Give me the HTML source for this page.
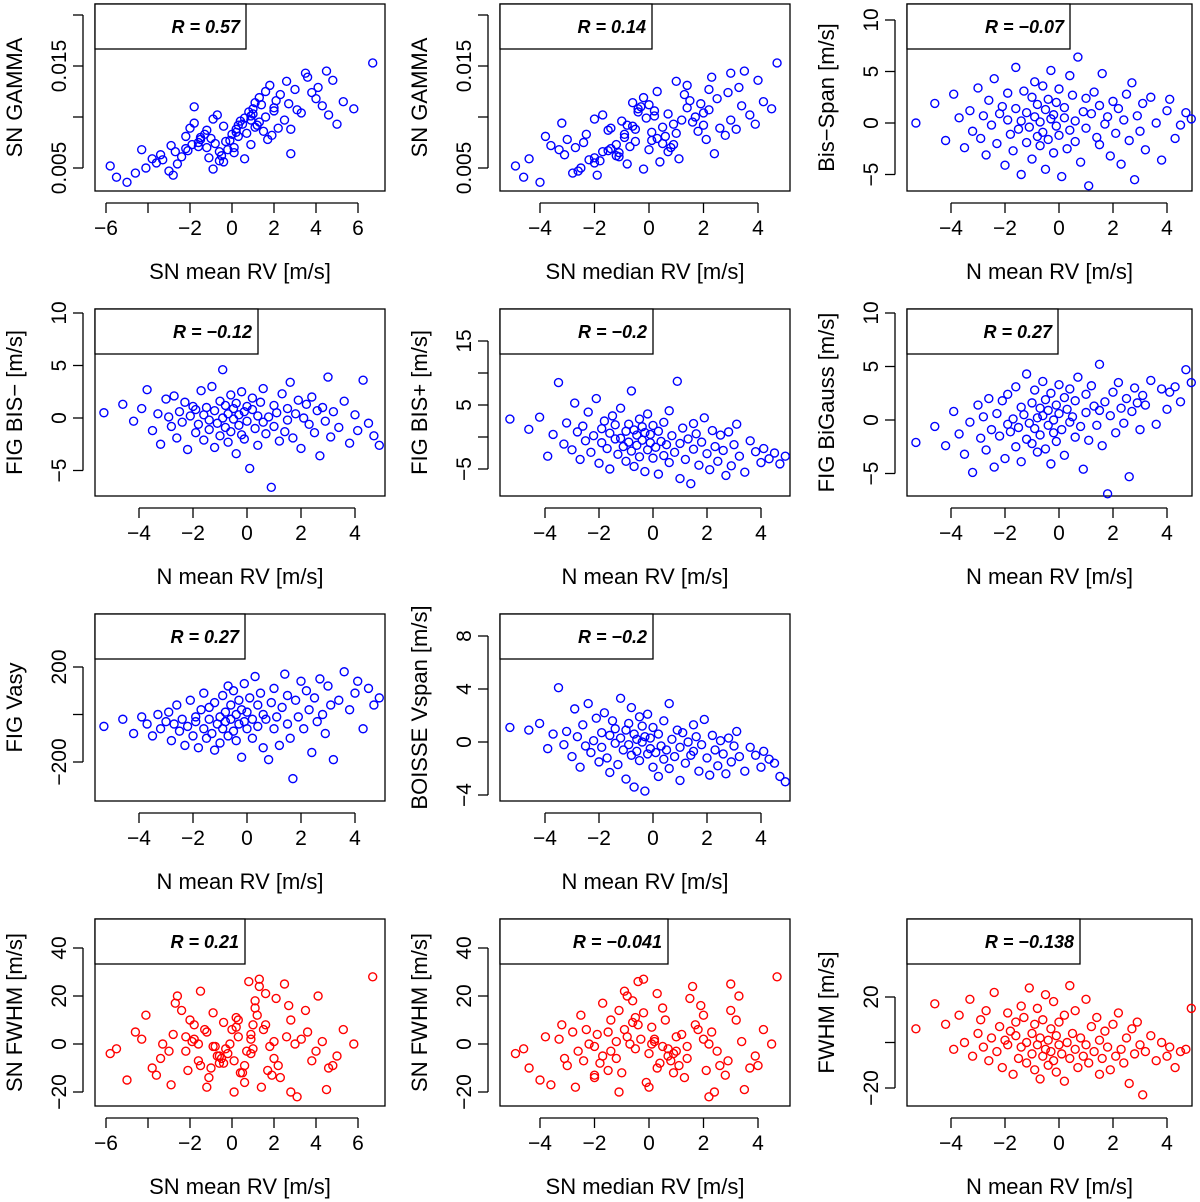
<!DOCTYPE html>
<html><head><meta charset="utf-8"><style>
html,body{margin:0;padding:0;background:#fff;}
svg{display:block;font-family:"Liberation Sans",sans-serif;}
</style></head><body>
<svg id="chart" width="1200" height="1202" viewBox="0 0 1200 1202" xmlns="http://www.w3.org/2000/svg"></svg>
<script>
const nMeanRV = [-5.3,-4.6,-4.2,-3.9,-3.7,-3.5,-3.3,-3.2,-3.0,-2.9,
-2.8,-2.7,-2.6,-2.5,-2.4,-2.3,-2.2,-2.1,-2.0,-1.9,
-1.9,-1.8,-1.7,-1.6,-1.6,-1.5,-1.4,-1.4,-1.3,-1.2,
-1.2,-1.1,-1.0,-1.0,-0.9,-0.9,-0.8,-0.8,-0.7,-0.7,
-0.6,-0.6,-0.5,-0.5,-0.4,-0.4,-0.3,-0.3,-0.2,-0.2,
-0.1,-0.1,0.0,0.0,0.1,0.2,0.2,0.3,0.4,0.4,
0.5,0.6,0.6,0.7,0.8,0.9,1.0,1.0,1.1,1.2,
1.3,1.4,1.5,1.5,1.6,1.7,1.8,1.9,2.0,2.1,
2.2,2.3,2.4,2.5,2.6,2.7,2.8,2.9,3.0,3.1,
3.2,3.4,3.6,3.8,4.0,4.1,4.3,4.5,4.7,4.9];
const snMeanRV = [-5.8,-5.5,-4.3,-5.0,-3.8,-4.6,-2.9,-4.1,-3.4,-2.2,
-3.6,-1.8,-3.0,-2.7,-1.5,-3.3,-2.0,-1.2,-2.8,-1.6,
-2.4,-0.9,-2.1,-1.3,-2.6,-0.7,-1.9,-1.1,-0.4,-2.2,
-1.5,-0.6,-1.8,0.1,-1.2,-0.3,-0.9,0.4,-1.6,0.2,
-0.5,0.8,-1.0,0.3,-0.2,1.1,-0.8,0.6,0.0,-0.4,
0.9,0.2,-0.6,1.3,0.5,-0.1,1.0,0.7,1.6,0.1,
0.9,1.4,0.3,1.8,1.1,0.6,2.0,1.3,0.9,2.3,
1.5,1.0,2.1,1.7,2.6,1.2,2.0,2.8,1.6,3.0,
2.2,2.7,3.3,1.9,3.6,2.5,4.0,3.1,2.8,3.8,
4.3,3.5,4.6,4.1,5.0,4.5,5.3,4.8,5.8,6.7];
const snMedianRV = [-4.9,-4.6,-3.3,-4.0,-4.4,-2.8,-3.6,-2.5,-3.1,-3.8,
-2.0,-3.2,-2.6,-1.7,-3.0,-2.2,-1.4,-2.7,-1.9,-2.4,
-1.1,-2.0,-1.5,-2.3,-0.8,-1.7,-1.2,-2.0,-0.6,-1.4,
-0.9,-1.8,-0.3,-1.1,-1.5,-0.5,-0.2,-1.0,-0.7,0.1,
-1.2,-0.4,0.3,-0.8,0.0,-0.6,0.5,-0.1,-0.9,0.4,
0.2,-0.5,0.7,-0.2,0.9,0.1,-0.4,1.0,0.3,0.8,
1.2,0.0,0.6,1.4,0.5,1.1,0.2,1.6,0.9,1.3,
1.8,0.7,1.5,2.1,1.0,2.0,1.4,2.4,1.7,2.2,
2.6,1.9,2.0,2.8,2.3,3.0,2.5,2.2,3.2,2.9,
3.4,3.0,3.7,3.3,3.9,3.5,4.2,4.0,4.5,4.7];
const snGamma = [0.0052,0.0041,0.0068,0.0036,0.0059,0.0045,0.0072,0.0050,0.0063,0.0081,
0.0055,0.0094,0.0047,0.0066,0.0078,0.0058,0.0089,0.0070,0.0043,0.0075,
0.0061,0.0098,0.0067,0.0083,0.0054,0.0102,0.0073,0.0060,0.0091,0.0069,
0.0080,0.0057,0.0110,0.0065,0.0087,0.0076,0.0049,0.0096,0.0071,0.0085,
0.0062,0.0105,0.0079,0.0092,0.0068,0.0114,0.0074,0.0099,0.0083,0.0056,
0.0101,0.0088,0.0066,0.0119,0.0093,0.0077,0.0108,0.0084,0.0125,0.0070,
0.0097,0.0112,0.0081,0.0131,0.0090,0.0059,0.0106,0.0095,0.0073,0.0122,
0.0086,0.0103,0.0116,0.0078,0.0135,0.0092,0.0109,0.0064,0.0100,0.0127,
0.0089,0.0113,0.0104,0.0082,0.0139,0.0097,0.0118,0.0107,0.0088,0.0124,
0.0111,0.0143,0.0102,0.0129,0.0093,0.0145,0.0115,0.0136,0.0108,0.0153];
const bisSpan = [0.0,1.9,-1.7,2.8,0.5,-2.4,1.2,-0.8,3.4,-1.5,
0.7,-3.1,2.2,-0.2,4.3,-2.0,0.9,1.6,-4.1,0.3,
2.9,-1.1,-2.7,1.4,5.4,-0.6,0.2,-5.0,3.1,-1.9,
1.0,-0.4,2.5,-3.5,0.6,4.0,-1.3,1.8,-2.2,0.1,
3.6,-0.9,-4.5,1.3,2.3,-1.6,0.4,5.1,-2.9,0.8,
-0.3,2.0,-1.2,3.3,-5.2,0.5,1.5,-2.5,4.6,-0.7,
2.7,-1.8,0.2,6.4,-3.8,1.1,-0.5,2.4,-6.1,0.9,
3.0,-1.4,-2.1,1.7,4.8,-0.1,0.6,-3.2,2.1,-1.0,
1.4,-4.0,0.3,2.8,-1.7,3.9,-5.5,0.7,-0.8,1.9,
-2.6,2.5,0.0,-3.6,1.2,2.3,-1.5,-0.2,1.0,0.4];
const bisMinus = [0.5,1.3,-0.3,0.9,2.7,-1.2,0.4,-2.5,1.8,0.1,
-0.8,2.1,-1.9,0.6,-0.4,1.5,-3.0,0.2,1.1,-1.4,
0.8,-0.6,2.6,-2.1,0.3,1.0,-1.1,-0.2,3.0,-2.8,
0.7,-0.5,1.6,-1.7,0.0,4.6,-0.9,1.2,-2.3,0.4,
-1.3,2.2,-0.1,0.9,-3.4,1.4,-0.7,0.3,2.5,-1.6,
0.6,-2.0,1.1,-0.3,-4.8,0.8,1.9,-1.0,0.2,-2.6,
1.5,-0.4,2.8,-1.5,0.1,-6.6,1.2,-0.8,0.5,-2.2,
2.3,-1.3,0.9,-0.2,3.4,-1.9,0.4,1.7,-2.9,0.0,
1.3,-0.6,2.0,-1.4,0.7,-3.6,1.0,-0.3,3.9,-1.8,
0.6,-0.9,1.6,-2.4,0.3,-1.2,3.6,-0.5,-1.7,-2.6];
const bisPlus = [2.8,1.2,3.1,-3.0,0.4,8.5,-1.1,2.2,-2.0,5.3,
0.8,-3.5,1.7,-0.6,3.9,-2.4,0.2,6.0,-4.1,1.3,
-0.9,2.5,-1.8,0.6,-5.0,3.3,-0.3,1.9,-2.7,-0.2,
4.5,-1.5,0.9,-3.8,2.0,-0.8,7.2,-2.2,1.1,-4.6,
0.3,-1.3,2.8,-3.1,-0.5,1.6,-5.4,0.7,-2.0,3.6,
-0.9,0.4,-3.3,1.8,-1.6,-5.8,0.9,-0.7,2.3,-2.9,
-1.2,4.1,-4.0,0.2,-2.4,8.7,-1.0,-6.5,1.4,-3.5,
-0.3,-7.3,2.1,-1.9,0.5,-4.4,-0.8,3.0,-2.6,-5.1,
1.0,-1.5,-3.8,0.3,-2.1,-6.0,0.8,-4.5,-1.2,2.0,
-3.0,-5.5,-0.6,-2.3,-4.0,-1.8,-3.4,-2.5,-4.2,-3.0];
const biGauss = [-2.1,-0.6,-2.4,0.8,-1.3,-3.2,-0.2,-4.9,1.4,-1.7,
0.3,-2.8,2.0,-0.9,-4.4,0.6,-1.5,1.8,-3.6,-0.4,
2.4,-1.1,0.1,-2.5,3.1,-0.7,1.2,-3.9,0.5,-1.8,
4.3,-0.3,1.6,-2.2,-0.8,2.8,0.2,-3.0,1.1,-1.4,
3.6,0.4,-2.7,1.9,-0.5,0.9,-4.1,2.5,-1.2,0.0,
1.4,-2.0,3.3,0.6,-0.9,2.1,-3.3,1.0,-0.2,2.9,
0.3,-1.6,1.8,4.0,-0.6,-4.6,2.4,0.7,-1.9,3.2,
1.3,-0.5,5.2,0.9,-2.4,1.7,-6.9,0.4,2.6,-1.2,
3.5,1.1,-0.3,2.0,-5.3,0.8,3.0,1.6,-0.9,2.3,
1.4,3.7,-0.4,2.9,1.0,2.6,3.1,1.7,4.7,3.5];
const vasy = [-50,-20,-80,-10,-40,-90,0,-60,-30,10,
-110,-40,40,-70,-20,-130,-50,60,-90,-30,
-10,-140,20,-60,90,-100,-20,30,-80,-150,
50,-40,-10,-120,80,-60,10,-30,120,-90,
-20,40,-70,100,0,-110,-40,60,-180,20,
-30,130,-60,10,70,-100,-20,160,40,-50,
90,-140,0,-20,-190,50,-60,110,-10,-130,
30,170,-40,80,-100,-270,60,-10,140,-60,
100,20,-160,70,-30,150,0,-80,120,40,
-190,60,180,20,90,140,-60,110,40,70];
const vspan = [1.1,0.9,1.4,-0.5,0.6,4.1,-0.2,0.8,-1.1,2.5,
0.4,-1.9,1.3,-0.3,2.9,-0.8,0.1,1.8,-1.5,0.7,
-0.4,2.2,-1.2,0.5,-2.3,1.6,-0.1,1.0,-1.7,0.3,
3.3,-0.6,0.9,-2.8,1.4,-0.2,2.6,-1.0,0.6,-3.4,
0.2,-0.7,1.9,-1.4,0.0,1.2,-3.7,0.4,-0.9,2.1,
-0.5,0.3,-1.9,1.1,-0.8,-2.6,0.6,-0.3,1.6,-1.3,
-0.6,2.9,-2.0,0.2,-1.1,0.9,-0.4,-2.9,0.7,-1.6,
0.0,-1.0,1.3,-0.7,0.4,-2.2,-0.2,1.7,-1.2,-2.5,
0.5,-0.6,-1.8,0.1,-0.9,-2.4,0.3,-1.5,-0.3,0.8,
-1.1,-2.2,-0.4,-1.0,-1.9,-0.7,-1.3,-1.6,-2.6,-3.0];
const fwhmSN = [-4,-2,2,-15,-10,5,-17,12,-6,3,
-13,8,-3,17,-9,0,10,-18,4,-7,
14,-1,-11,6,20,-5,1,-14,9,-3,
22,-8,2,-20,5,-2,13,-12,0,7,
-6,26,-10,3,-4,18,-1,-16,6,-8,
2,11,-5,27,-12,0,8,-3,21,-7,
4,-18,10,-1,15,-9,1,24,-4,-14,
6,-2,19,-11,3,12,-6,-20,8,0,
-9,16,2,-13,5,25,-3,-22,10,-7,
1,14,-10,20,-5,-19,6,-9,0,28];
const fwhmN = [6,17,8,-3,12,0,19,-6,4,10,
-2,14,-8,2,22,-4,7,-11,1,13,
-1,5,-14,9,3,-7,16,-2,11,-9,
0,24,-5,4,-12,8,-1,15,-16,2,
-6,10,-3,21,-10,1,6,-4,18,-8,
3,-13,-1,9,-5,12,-17,0,25,-7,
4,-3,14,-11,2,-6,19,-1,-9,7,
-4,11,-14,1,-7,5,-2,-12,8,-6,
13,-3,-9,2,-18,6,-5,9,-1,-23,
-4,3,-8,0,-6,-2,-11,-4,-3,15];
const rLabels = ["R = 0.57","R = 0.14","R = \u22120.07","R = \u22120.12","R = \u22120.2","R = 0.27","R = 0.27","R = \u22120.2","R = 0.21","R = \u22120.041","R = \u22120.138"];
const xTicksSN = [-6,-4,-2,0,2,4,6];
const xTickLabelsSN = ["\u22126","","\u22122","0","2","4","6"];
const xTicksN = [-4,-2,0,2,4];
const xTickLabelsN = ["\u22124","\u22122","0","2","4"];

const NS="http://www.w3.org/2000/svg";
const svg=document.getElementById('chart');
function mk(tag,attrs,parent){const e=document.createElementNS(NS,tag);for(const k in attrs)e.setAttribute(k,attrs[k]);(parent||svg).appendChild(e);return e;}

// layout: column boxes, row tops
const cols=[[95,385],[500,790],[907,1192]];
const rows=[4,309,614,919];
const H=187;
// x scale definitions (pixel of 0, px per unit) per column & type
const xs={SN:[[232,21],[649,27.25]], N:[[247,27],[653,27],[1059,27]], MED:[[649,27.25]]};

const panels=[
 {c:0,r:0,x:snMeanRV,y:snGamma,xt:"SN",y0:0.005,y0p:164,yk:10200,yt:[0.005,0.010,0.015,0.020],ytl:["0.005","","0.015",""],xl:"SN mean RV [m/s]",yl:"SN GAMMA",rw:151,col:"#0000ff",name:"gamma-vs-sn-mean"},
 {c:1,r:0,x:snMedianRV,y:snGamma,xt:"MED",y0:0.005,y0p:164,yk:10200,yt:[0.005,0.010,0.015,0.020],ytl:["0.005","","0.015",""],xl:"SN median RV [m/s]",yl:"SN GAMMA",rw:152,col:"#0000ff",name:"gamma-vs-sn-median"},
 {c:2,r:0,x:nMeanRV,y:bisSpan,xt:"N",y0:0,y0p:119,yk:10.3,yt:[-5,0,5,10],ytl:["\u22125","0","5","10"],xl:"N mean RV [m/s]",yl:"Bis\u2212Span [m/s]",rw:163,col:"#0000ff",name:"bisspan-vs-n-mean"},
 {c:0,r:1,x:nMeanRV,y:bisMinus,xt:"N",y0:0,y0p:109,yk:10.5,yt:[-5,0,5,10],ytl:["\u22125","0","5","10"],xl:"N mean RV [m/s]",yl:"FIG BIS\u2212 [m/s]",rw:163,col:"#0000ff",name:"bisminus-vs-n-mean"},
 {c:1,r:1,x:nMeanRV,y:bisPlus,xt:"N",y0:0,y0p:128,yk:6.4,yt:[-5,0,5,10,15],ytl:["\u22125","","5","","15"],xl:"N mean RV [m/s]",yl:"FIG BIS+ [m/s]",rw:153,col:"#0000ff",name:"bisplus-vs-n-mean"},
 {c:2,r:1,x:nMeanRV,y:biGauss,xt:"N",y0:0,y0p:111,yk:10.7,yt:[-5,0,5,10],ytl:["\u22125","0","5","10"],xl:"N mean RV [m/s]",yl:"FIG BiGauss [m/s]",rw:151,col:"#0000ff",name:"bigauss-vs-n-mean"},
 {c:0,r:2,x:nMeanRV,y:vasy,xt:"N",y0:0,y0p:100.5,yk:0.2375,yt:[-200,0,200],ytl:["\u2212200","","200"],xl:"N mean RV [m/s]",yl:"FIG Vasy",rw:150,col:"#0000ff",name:"vasy-vs-n-mean"},
 {c:1,r:2,x:nMeanRV,y:vspan,xt:"N",y0:0,y0p:128,yk:13.25,yt:[-4,0,4,8],ytl:["\u22124","0","4","8"],xl:"N mean RV [m/s]",yl:"BOISSE Vspan [m/s]",rw:153,col:"#0000ff",name:"vspan-vs-n-mean"},
 {c:0,r:3,x:snMeanRV,y:fwhmSN,xt:"SN",y0:0,y0p:125,yk:2.4,yt:[-20,0,20,40],ytl:["\u221220","0","20","40"],xl:"SN mean RV [m/s]",yl:"SN FWHM [m/s]",rw:150,col:"#ff0000",name:"fwhm-vs-sn-mean"},
 {c:1,r:3,x:snMedianRV,y:fwhmSN,xt:"MED",y0:0,y0p:125,yk:2.4,yt:[-20,0,20,40],ytl:["\u221220","0","20","40"],xl:"SN median RV [m/s]",yl:"SN FWHM [m/s]",rw:168,col:"#ff0000",name:"fwhm-vs-sn-median"},
 {c:2,r:3,x:nMeanRV,y:fwhmN,xt:"N",y0:0,y0p:123.5,yk:2.275,yt:[-20,0,20],ytl:["\u221220","","20"],xl:"N mean RV [m/s]",yl:"FWHM [m/s]",rw:173,col:"#ff0000",name:"fwhm-vs-n-mean"}
];

panels.forEach((p,i)=>{
  const [L,R]=cols[p.c]; const T=rows[p.r]; const B=T+H;
  const xsc = p.xt==="SN"?xs.SN[0]:(p.xt==="MED"?xs.MED[0]:xs.N[p.c]);
  const X=v=>xsc[0]+xsc[1]*v;
  const Y=v=>T+p.y0p-(v-p.y0)*p.yk;
  const g=mk('g',{});
  
  
  const box=mk('rect',{x:L,y:T,width:R-L,height:H,fill:'none',stroke:'#000','stroke-width':1.3},g);
  
  
  // x ticks
  const xt=p.xt==="SN"?xTicksSN:xTicksN, xtl=p.xt==="SN"?xTickLabelsSN:xTickLabelsN;
  mk('line',{x1:X(xt[0]),x2:X(xt[xt.length-1]),y1:B+12,y2:B+12,stroke:'#000','stroke-width':1.3},g);
  xt.forEach((t,k)=>{
    mk('line',{x1:X(t),x2:X(t),y1:B+12,y2:B+22,stroke:'#000','stroke-width':1.3},g);
    if(xtl[k]){const tx=mk('text',{x:X(t),y:B+44,'font-size':21,'text-anchor':'middle'},g);tx.textContent=xtl[k];
      
      }
  });
  // y ticks
  const ya=L-12;
  mk('line',{x1:ya,x2:ya,y1:Y(p.yt[0]),y2:Y(p.yt[p.yt.length-1]),stroke:'#000','stroke-width':1.3},g);
  p.yt.forEach((t,k)=>{
    mk('line',{x1:ya-10,x2:ya,y1:Y(t),y2:Y(t),stroke:'#000','stroke-width':1.3},g);
    if(p.ytl[k]){const tx=mk('text',{x:0,y:0,'font-size':21,'text-anchor':'middle',transform:`translate(${ya-17},${Y(t)}) rotate(-90)`},g);tx.textContent=p.ytl[k];
      
      }
  });
  // axis titles
  const xlab=mk('text',{x:(L+R)/2,y:B+88,'font-size':22,'text-anchor':'middle'},g);xlab.textContent=p.xl;
  
  
  const ylab=mk('text',{x:0,y:0,'font-size':22,'text-anchor':'middle',transform:`translate(${L-73},${T+H/2}) rotate(-90)`},g);ylab.textContent=p.yl;
  
  
  // points
  const n=Math.min(p.x.length,p.y.length);
  for(let k=0;k<n;k++){
    const c=mk('circle',{cx:X(p.x[k]),cy:Y(p.y[k]),r:4,fill:'none',stroke:p.col,'stroke-width':1.4},g);
    
    
  }
  // R box
  const rb=mk('rect',{x:L,y:T,width:p.rw,height:45,fill:'#fff',stroke:'#000','stroke-width':1.3},g);
  
  
  const rt=mk('text',{x:L+p.rw-6,y:T+29,'font-size':18,'font-weight':'bold','font-style':'italic','text-anchor':'end'},g);
  rt.textContent=rLabels[i];
  
  
});
</script>
</body></html>
